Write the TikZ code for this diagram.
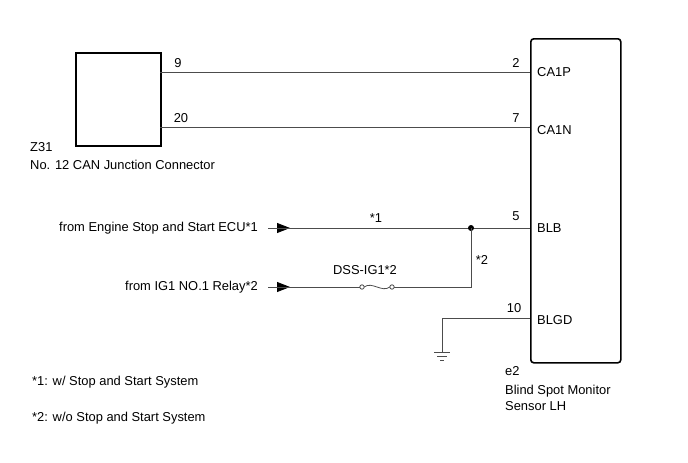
\documentclass[tikz,border=0pt]{standalone}
\usepackage{fontspec}
\setmainfont{Liberation Sans}
\usetikzlibrary{positioning,arrows.meta}
\tikzset{
  wire/.style={draw=black!70,line width=0.8pt},
  txt/.style={inner sep=0pt,font=\fontsize{12.9}{15}\selectfont},
  pin/.style={txt,anchor=base},
  feed/.style={-{Triangle[length=13pt,width=10pt]},line width=0.8pt}
}
\begin{document}
\begin{tikzpicture}[x=1pt,y=-1pt]
\useasboundingbox (0,0) rectangle (688,463);

% components
\node[draw,line width=1.6pt,minimum width=85pt,minimum height=93pt,anchor=north west] (z31) at (75,52) {};
\node[draw,line width=1.6pt,rounded corners=3pt,minimum width=90pt,minimum height=324pt,anchor=north west] (e2) at (530,38) {};

% labels
\node[txt,anchor=base west] (z31n) at (30,151) {Z31};
\node[txt,anchor=base west] (z31t) at (30,169) {No. 12 CAN Junction Connector};
\node[txt,anchor=base west] (e2n) at (505,375) {e2};
\node[txt,anchor=base west] (e2t) at (505,394) {Blind Spot Monitor};
\node[txt,anchor=base west] (e2u) at (505,410) {Sensor LH};
\node[txt,anchor=base west] (fn1) at (32,385) {*1: w/ Stop and Start System};
\node[txt,anchor=base west] (fn2) at (32,421) {*2: w/o Stop and Start System};

% pins of e2
\node[txt,anchor=west] (ca1p) at (537,72) {CA1P};
\node[txt,anchor=west] (ca1n) at (537,130) {CA1N};
\node[txt,anchor=west] (blb) at (537,228) {BLB};
\node[txt,anchor=west] (blgd) at (537,320) {BLGD};

% CAN lines
\coordinate (z9) at (160,72);
\coordinate (z20) at (160,127);
\coordinate (e2a) at (530,72);
\coordinate (e2b) at (530,127);
\draw[wire] (z9) -- (e2a);
\draw[wire] (z20) -- (e2b);
\node[pin] at (178,67) {9};
\node[pin] at (181,122) {20};
\node[pin] at (516,67) {2};
\node[pin] at (516,122) {7};

% power feeds
\node[txt,anchor=east] (ecu) at (258,228) {from Engine Stop and Start ECU*1};
\node[txt,anchor=east] (relay) at (258,287) {from IG1 NO.1 Relay*2};
\coordinate (a1) at (268,228);
\coordinate (a2) at (268,287);
\coordinate (j) at (471,228);
\coordinate (e2c) at (530,228);
\coordinate (k) at (471,287);
\coordinate (f1) at (362,287);
\coordinate (f2) at (392,287);
\draw[feed] (a1) -- (290,228);
\draw[feed] (a2) -- (290,287);
\draw[wire] (a1) -- (e2c);
\fill (j) circle (3pt);
\draw[wire] (j) -- (k) -- (f2);
\draw[wire] (a2) -- (f1);
\draw[wire,fill=white] (f1) circle (2.2pt) (f2) circle (2.2pt);
\draw[wire] ([xshift=2.2pt]f1) .. controls (372,281) and (382,293) .. ([xshift=-2.2pt]f2);
\node[pin] at (376,222) {*1};
\node[pin] at (482,264) {*2};
\node[pin] at (365,274) {DSS-IG1*2};
\node[pin] at (516,220) {5};

% ground
\coordinate (e2d) at (530,318);
\coordinate (g) at (442,352);
\draw[wire] (e2d) -- (442,318) -- (g);
\draw[wire] (434,352) -- (450,352) (437,356) -- (447,356) (440,360) -- (444,360);
\node[pin] at (514,312) {10};
\end{tikzpicture}
\end{document}
